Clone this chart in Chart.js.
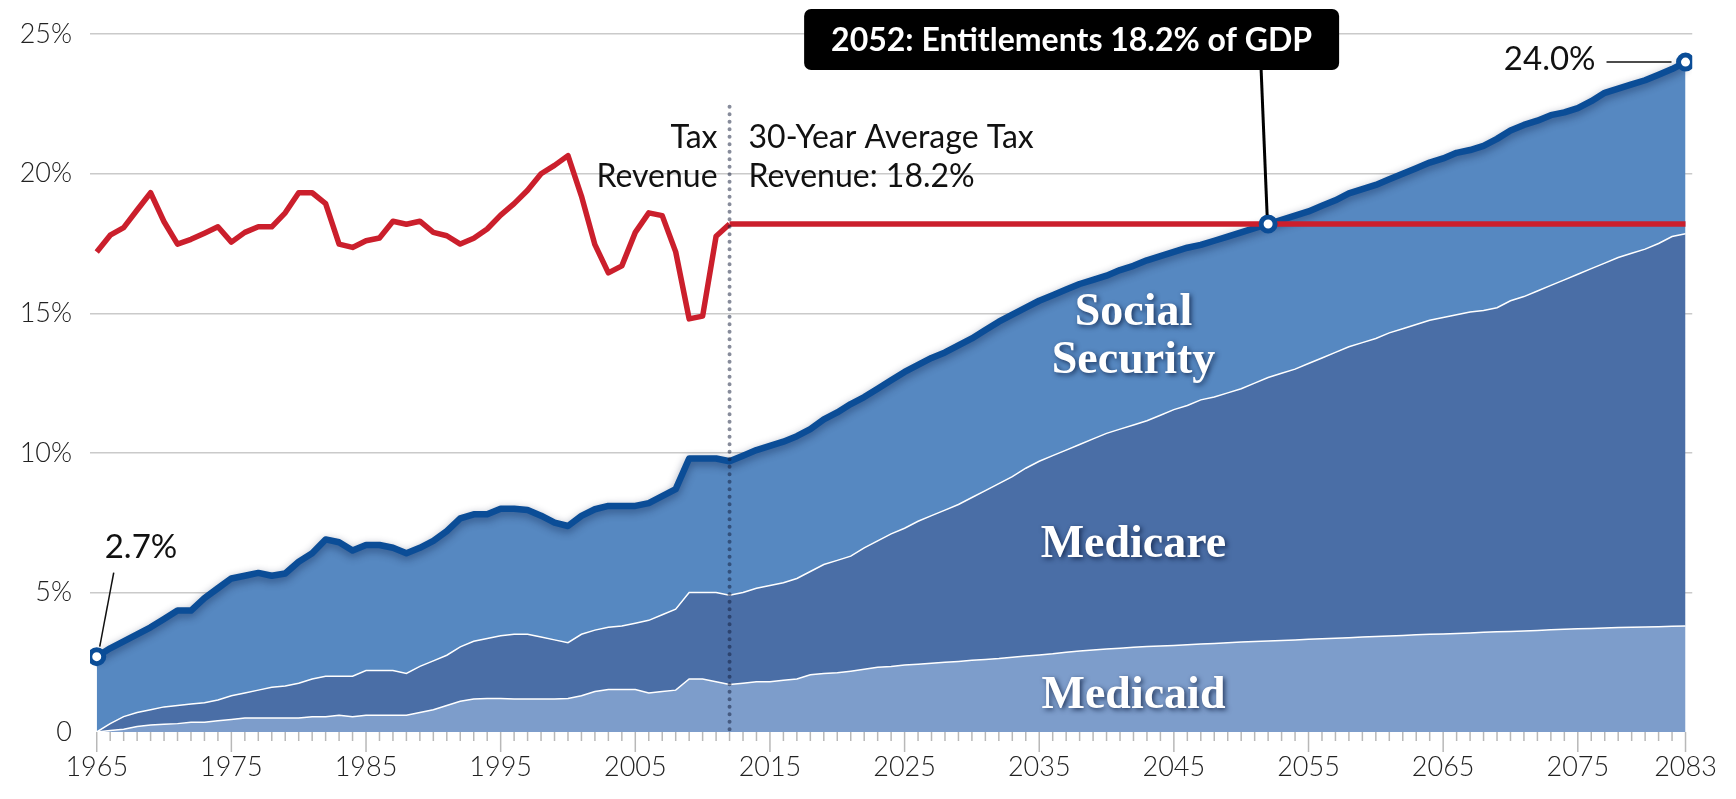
<!DOCTYPE html>
<html>
<head>
<meta charset="utf-8">
<script src="https://cdn.jsdelivr.net/npm/chart.js@4.4.1/dist/chart.umd.min.js"></script>
<style>
html, body { margin: 0; padding: 0; background: #fff; }
#wrap { width: 1736px; height: 799px; }
</style>
</head>
<body>
<div id="wrap"><canvas id="chart" width="1736" height="799"></canvas></div>
<script>
// years on the axis
var firstYear = 1965;
var lastYear = 2083;
var years = [];
for (var yr = firstYear; yr <= lastYear; yr++) years.push(yr);

// spending, % of GDP (1965 - 2083)
var medicaid = [
	0, 0.05, 0.1, 0.2, 0.25, 0.28, 0.3, 0.35, 0.35, 0.4,
	0.45, 0.5, 0.5, 0.5, 0.5, 0.5, 0.55, 0.55, 0.6, 0.55,
	0.6, 0.6, 0.6, 0.6, 0.7, 0.8, 0.95, 1.1, 1.18, 1.2,
	1.2, 1.18, 1.18, 1.18, 1.18, 1.2, 1.3, 1.45, 1.52, 1.52,
	1.52, 1.4, 1.45, 1.5, 1.9, 1.9, 1.8, 1.7, 1.75, 1.8,
	1.8, 1.85, 1.9, 2.05, 2.1, 2.12, 2.18, 2.25, 2.32, 2.35,
	2.4, 2.43, 2.46, 2.5, 2.53, 2.57, 2.6, 2.63, 2.68, 2.72,
	2.76, 2.8, 2.86, 2.9, 2.94, 2.97, 3.0, 3.04, 3.06, 3.08,
	3.1, 3.13, 3.15, 3.17, 3.2, 3.22, 3.24, 3.26, 3.28, 3.3,
	3.32, 3.34, 3.36, 3.38, 3.4, 3.42, 3.44, 3.46, 3.48, 3.5,
	3.51, 3.53, 3.55, 3.57, 3.59, 3.6, 3.62, 3.64, 3.66, 3.68,
	3.7, 3.71, 3.73, 3.74, 3.75, 3.76, 3.77, 3.79, 3.8
];
var medicare = [
	0, 0.25, 0.45, 0.5, 0.55, 0.62, 0.65, 0.65, 0.7, 0.75,
	0.85, 0.9, 1.0, 1.1, 1.15, 1.25, 1.35, 1.45, 1.4, 1.45,
	1.6, 1.6, 1.6, 1.5, 1.65, 1.75, 1.8, 1.95, 2.07, 2.15,
	2.25, 2.32, 2.32, 2.22, 2.12, 2.0, 2.2, 2.2, 2.23, 2.28,
	2.38, 2.6, 2.75, 2.9, 3.1, 3.1, 3.2, 3.2, 3.25, 3.35,
	3.45, 3.5, 3.6, 3.7, 3.9, 4.03, 4.12, 4.35, 4.53, 4.75,
	4.9, 5.12, 5.29, 5.45, 5.62, 5.83, 6.05, 6.27, 6.47, 6.73,
	6.94, 7.1, 7.24, 7.4, 7.56, 7.73, 7.85, 7.96, 8.09, 8.27,
	8.45, 8.57, 8.75, 8.83, 8.95, 9.08, 9.26, 9.44, 9.57, 9.7,
	9.88, 10.06, 10.24, 10.42, 10.55, 10.68, 10.86, 10.99, 11.12, 11.25,
	11.34, 11.42, 11.5, 11.53, 11.61, 11.85, 11.98, 12.16, 12.34, 12.52,
	12.7, 12.89, 13.07, 13.26, 13.4, 13.54, 13.73, 13.96, 14.05
];
var socialSecurity = [
	2.7, 2.7, 2.7, 2.8, 2.95, 3.15, 3.4, 3.35, 3.75, 4.0,
	4.2, 4.2, 4.2, 4.0, 4.03, 4.35, 4.5, 4.9, 4.8, 4.5,
	4.5, 4.5, 4.4, 4.3, 4.25, 4.3, 4.45, 4.6, 4.55, 4.45,
	4.55, 4.5, 4.45, 4.35, 4.2, 4.18, 4.24, 4.33, 4.35, 4.3,
	4.2, 4.2, 4.25, 4.3, 4.8, 4.8, 4.8, 4.8, 4.9, 4.95,
	5.0, 5.05, 5.1, 5.1, 5.2, 5.3, 5.45, 5.4, 5.45, 5.5,
	5.6, 5.6, 5.65, 5.65, 5.7, 5.7, 5.75, 5.8, 5.8, 5.75,
	5.75, 5.75, 5.75, 5.75, 5.7, 5.65, 5.7, 5.7, 5.75, 5.7,
	5.65, 5.65, 5.55, 5.6, 5.6, 5.6, 5.55, 5.5, 5.5, 5.5,
	5.45, 5.45, 5.45, 5.5, 5.5, 5.5, 5.5, 5.55, 5.6, 5.65,
	5.7, 5.8, 5.8, 5.9, 6.05, 6.1, 6.15, 6.1, 6.1, 6.0,
	5.95, 6.0, 6.1, 6.05, 6.05, 6.05, 6.05, 6.0, 6.15
];

// tax revenue, % of GDP (1965 - 2012)
var taxRevenue = [
	17.2, 17.8, 18.07, 18.7, 19.32, 18.28, 17.48, 17.65, 17.87, 18.1,
	17.55, 17.9, 18.1, 18.1, 18.6, 19.32, 19.32, 18.93, 17.48, 17.36,
	17.6, 17.7, 18.3, 18.19, 18.3, 17.9, 17.78, 17.48, 17.69, 18.02,
	18.52, 18.93, 19.41, 20.0, 20.3, 20.65, 19.2, 17.46, 16.45, 16.7,
	17.9, 18.6, 18.5, 17.2, 14.8, 14.9, 17.76, 18.2
];
var avgTaxYears = [2012, 2083];
var avgTaxRevenue = [18.2, 18.2];

var markerYears = [1965, 2052, 2083];
var markerValues = [2.7, 18.2, 24.0];

var xTickYears = [1965, 1975, 1985, 1995, 2005, 2015, 2025, 2035, 2045, 2055, 2065, 2075, 2083];
var splitYear = 2012;

function pts(xs, ys) {
	return xs.map(function(x, i) { return {x: x, y: ys[i]}; });
}

var darkBlue = '#0B4D97';
var red = '#CB1F2C';

// soft shadow under the total line
var lineShadow = {
	id: 'lineShadow',
	beforeDatasetDraw: function(chart, args) {
		if (args.index !== 2) return;
		var c = chart.ctx;
		c.save();
		c.shadowColor = 'rgba(0,20,60,0.45)';
		c.shadowBlur = 8;
		c.shadowOffsetY = 3;
	},
	afterDatasetDraw: function(chart, args) {
		if (args.index === 2) chart.ctx.restore();
	}
};

var overlay = {
	id: 'overlay',
	afterDatasetsDraw: function(chart) {
		var c = chart.ctx;
		var xs = chart.scales.x;
		var ys = chart.scales.y;
		var area = chart.chartArea;
		var dx = xs.getPixelForValue(splitYear);
		c.save();
		c.strokeStyle = 'rgba(15,25,55,0.5)';
		c.lineWidth = 4;
		c.lineCap = 'round';
		c.setLineDash([0, 7.5]);
		c.beginPath();
		c.moveTo(dx, ys.getPixelForValue(22.4));
		c.lineTo(dx, area.bottom);
		c.stroke();
		c.restore();
	},
	afterDraw: function(chart) {
		var c = chart.ctx;
		var xs = chart.scales.x;
		var ys = chart.scales.y;
		var area = chart.chartArea;
		var dx = xs.getPixelForValue(splitYear);

		// year tick marks
		c.save();
		c.strokeStyle = '#b8b8b8';
		c.lineWidth = 1.5;
		years.forEach(function(y) {
			var px = xs.getPixelForValue(y);
			var len = xTickYears.indexOf(y) >= 0 ? 20 : 9;
			c.beginPath();
			c.moveTo(px, area.bottom);
			c.lineTo(px, area.bottom + len);
			c.stroke();
		});
		c.restore();

		// tax revenue notes
		c.save();
		c.fillStyle = '#111';
		c.font = '400 32px Lato';
		c.textBaseline = 'middle';
		c.textAlign = 'right';
		c.fillText('Tax', dx - 12, 138);
		c.fillText('Revenue', dx - 12, 177);
		c.textAlign = 'left';
		c.fillText('30-Year Average Tax', dx + 19, 138);
		c.fillText('Revenue: 18.2%', dx + 19, 177);
		c.restore();

		var m = chart.getDatasetMeta(5).data;
		var m0 = m[0], m1 = m[1], m2 = m[2];

		// callout box for 2052
		c.save();
		var bx = m1.x - 464, by = 9, bw = 535, bh = 61;
		c.fillStyle = '#000';
		c.beginPath();
		c.roundRect(bx, by, bw, bh, 7);
		c.fill();
		c.strokeStyle = '#000';
		c.lineWidth = 3;
		c.beginPath();
		c.moveTo(m1.x - 7, by + bh);
		c.lineTo(m1.x - 1, m1.y - 9);
		c.stroke();
		c.fillStyle = '#fff';
		c.font = '700 32px Lato';
		c.textAlign = 'center';
		c.textBaseline = 'middle';
		c.fillText('2052: Entitlements 18.2% of GDP', bx + bw / 2, by + bh / 2 + 1);
		c.restore();

		// end labels
		c.save();
		c.fillStyle = '#111';
		c.strokeStyle = '#111';
		c.lineWidth = 1.5;
		c.font = '400 33px Lato';
		c.textBaseline = 'middle';
		c.textAlign = 'right';
		c.fillText('24.0%', m2.x - 90, m2.y - 3);
		c.beginPath();
		c.moveTo(m2.x - 79, m2.y);
		c.lineTo(m2.x - 14, m2.y);
		c.stroke();
		c.textAlign = 'left';
		c.fillText('2.7%', m0.x + 8, m0.y - 109);
		c.beginPath();
		c.moveTo(m0.x + 17, m0.y - 84);
		c.lineTo(m0.x + 3, m0.y - 10);
		c.stroke();
		c.restore();

		// series names inside the areas
		c.save();
		c.fillStyle = '#fff';
		c.font = 'bold 46px "Liberation Serif"';
		c.textAlign = 'center';
		c.textBaseline = 'middle';
		c.shadowColor = 'rgba(10,25,60,0.75)';
		c.shadowBlur = 5;
		c.shadowOffsetX = 2;
		c.shadowOffsetY = 2;
		var lx = xs.getPixelForValue(2042);
		c.fillText('Social', lx, ys.getPixelForValue(15.0));
		c.fillText('Security', lx, ys.getPixelForValue(13.3));
		c.fillText('Medicare', lx, ys.getPixelForValue(6.7));
		c.fillText('Medicaid', lx, ys.getPixelForValue(1.3));
		c.restore();
	}
};

var chart = new Chart(document.getElementById('chart').getContext('2d'), {
	type: 'line',
	data: {
		datasets: [{
			label: 'Medicaid',
			data: pts(years, medicaid),
			stack: 'spend',
			order: 10,
			fill: 'origin',
			backgroundColor: '#7D9DCB',
			borderColor: '#ffffff',
			borderWidth: 1.5,
			pointRadius: 0
		}, {
			label: 'Medicare',
			data: pts(years, medicare),
			stack: 'spend',
			order: 11,
			fill: '-1',
			backgroundColor: '#4A6EA6',
			borderColor: '#ffffff',
			borderWidth: 1.5,
			pointRadius: 0
		}, {
			label: 'Social Security',
			data: pts(years, socialSecurity),
			stack: 'spend',
			order: 12,
			fill: '-1',
			backgroundColor: '#5688C1',
			borderColor: darkBlue,
			borderWidth: 6.5,
			borderJoinStyle: 'round',
			pointRadius: 0
		}, {
			label: 'Tax Revenue',
			data: pts(years.slice(0, taxRevenue.length), taxRevenue),
			stack: 'tax',
			order: 2,
			fill: false,
			borderColor: red,
			borderWidth: 5.5,
			borderJoinStyle: 'round',
			pointRadius: 0
		}, {
			label: '30-Year Average',
			data: pts(avgTaxYears, avgTaxRevenue),
			stack: 'avg',
			order: 2,
			fill: false,
			borderColor: red,
			borderWidth: 5.5,
			pointRadius: 0
		}, {
			label: 'markers',
			data: pts(markerYears, markerValues),
			stack: 'mark',
			order: 1,
			showLine: false,
			fill: false,
			pointRadius: 7,
			pointBorderWidth: 5,
			pointBackgroundColor: '#fff',
			pointBorderColor: darkBlue
		}]
	},
	options: {
		responsive: false,
		animation: false,
		devicePixelRatio: 1,
		layout: { padding: { top: 33, right: 39, left: 0, bottom: 0 } },
		elements: { line: { tension: 0 } },
		plugins: {
			legend: { display: false },
			tooltip: { enabled: false }
		},
		scales: {
			x: {
				type: 'linear',
				min: firstYear - 0.5,
				max: lastYear + 0.5,
				afterBuildTicks: function(scale) {
					scale.ticks = xTickYears.map(function(v) { return {value: v}; });
				},
				afterFit: function(scale) { scale.height = 67; },
				grid: { display: false, drawTicks: false },
				border: { display: false },
				ticks: {
					autoSkip: false,
					maxRotation: 0,
					padding: 19,
					color: '#222',
					font: { family: 'Lato', weight: '300', size: 27 },
					callback: function(v) { return String(v); }
				}
			},
			y: {
				stacked: true,
				min: 0,
				max: 25,
				afterFit: function(scale) { scale.width = 90; },
				grid: {
					drawTicks: false,
					lineWidth: 1.5,
					color: function(ctx) { return ctx.tick && ctx.tick.value === 0 ? 'rgba(0,0,0,0)' : '#cacaca'; }
				},
				border: { display: false },
				ticks: {
					stepSize: 5,
					padding: 18,
					color: '#222',
					font: { family: 'Lato', weight: '300', size: 27 },
					callback: function(v) { return v === 0 ? '0' : v + '%'; }
				}
			}
		}
	},
	plugins: [lineShadow, overlay]
});
</script>
</body>
</html>
